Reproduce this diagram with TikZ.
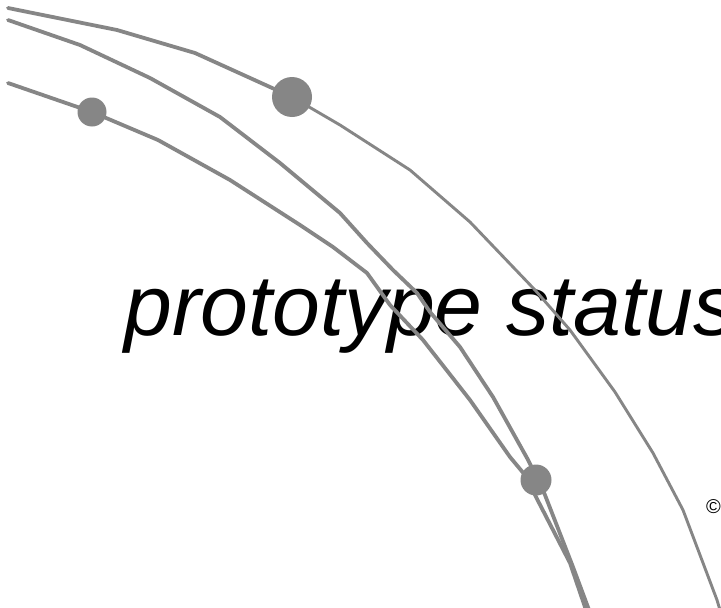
\documentclass[tikz,border=0pt]{standalone}
\usepackage{fontspec}
\setmainfont{Liberation Sans}
\definecolor{arcgray}{RGB}{134,134,134}
\tikzset{
  arc/.style={draw=arcgray, line width=3.8pt, line join=round, line cap=round},
  thinarc/.style={arc, line width=2.9pt},
  dot/.style={fill=arcgray, draw=none},
  title/.style={inner sep=0pt, anchor=base west, text=black},
}
\begin{document}
\begin{tikzpicture}[x=1pt, y=-1pt]
  \useasboundingbox (0,0) rectangle (721,608);
  \clip (0,0) rectangle (721,608);
  \fill[white] (0,0) rectangle (721,608);

  % heading and copyright mark
  \node[title] (head) at (124,335)
    {\fontsize{86}{86}\selectfont\itshape prototype status};
  \node[title] (copy) at (706,513) {\fontsize{20}{20}\selectfont ©};

  % outer arc
  \draw[arc] (8,8) -- (117,30) -- (195,53) -- (292,97);
  \draw[thinarc] (292,97) -- (340,125) -- (410,170) -- (470,222) -- (535,290)
    -- (570,330) -- (615,392) -- (653,453) -- (683,510) -- (717,600) -- (720,610);

  % middle arc
  \draw[arc] (8,20) -- (80,45) -- (150,78) -- (220,117) -- (280,163)
    -- (340,213) -- (367,243) -- (393,270) -- (417,293) -- (430,312)
    -- (448,333) -- (460,347) -- (493,397) -- (527,458) -- (536,476)
    -- (545,495) -- (573,567) -- (589,610);

  % inner arc
  \draw[arc] (8,83) -- (92,112) -- (158,140) -- (230,180) -- (300,225)
    -- (333,247) -- (367,273) -- (390,305) -- (423,340) -- (470,400)
    -- (510,457) -- (525,475) -- (535,495) -- (570,563) -- (586,610);

  % markers on the arcs
  \fill[dot] (292,97) circle (20);
  \fill[dot] (92,112) circle (14.5);
  \fill[dot] (536,480) circle (15.5);
\end{tikzpicture}
\end{document}
